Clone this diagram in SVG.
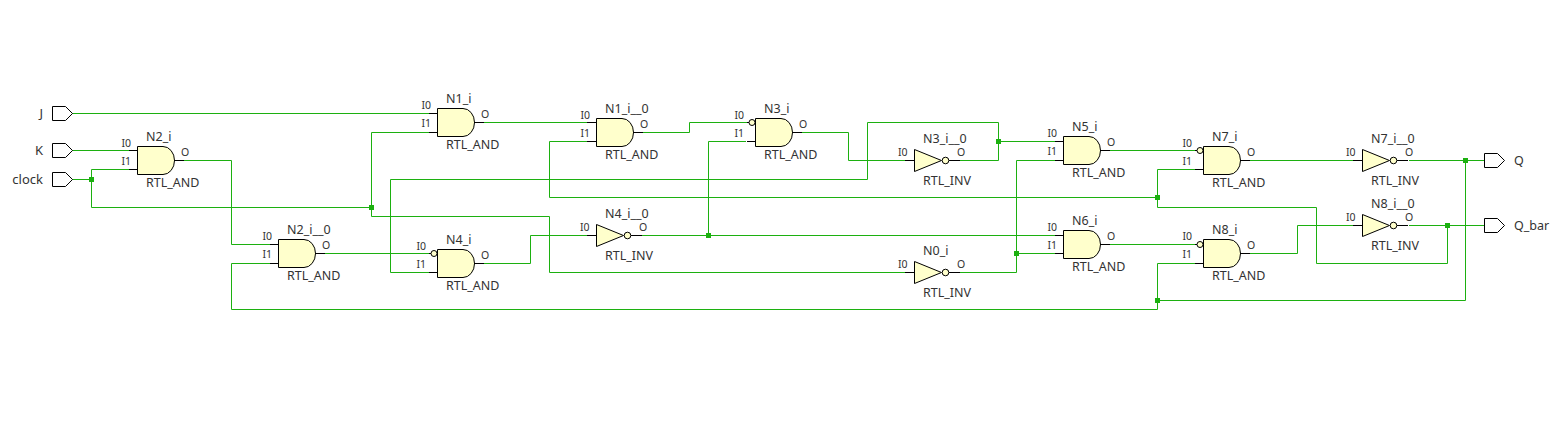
<svg xmlns="http://www.w3.org/2000/svg" xmlns:xlink="http://www.w3.org/1999/xlink" width="1560" height="425" viewBox="0 0 1560 425">
<style>
.w{fill:none;stroke:#1cb010;stroke-width:1}
.j{fill:#1cb010}
.k{fill:none;stroke:#000;stroke-width:1}
.b{fill:#ffffcc;stroke:#000;stroke-width:1}
text{font-family:"Noto Sans","Open Sans","Liberation Sans",sans-serif;fill:#333}
.n{font-size:12.5px}
.s{font-size:10.5px}
.l{font-size:13px}
.r{font-size:12.5px}
</style>
<defs>
<path id="and" class="b" d="M.5 .5H26A11.500 14 0 0 1 26 28.500H.5Z"/>
<g id="inv"><path class="b" d="M.5 -10.500V11.500L27.500 .5Z"/><circle class="b" cx="31.500" cy=".5" r="3.300"/></g>
<path id="port" class="k" style="fill:#fff" d="M.5 -7H13.500L20.500 0L13.500 7H.5Z"/>
</defs>
<rect width="1560" height="425" fill="#fff"/>
<g id="connectors">
<path class="w" d="M72 113.500H429"/>
<path class="w" d="M72 150.500H129"/>
<path class="w" d="M72 179.500H91.500M129 169.500H91.500V207.500H371.500M429 132.500H371.500V216.500H549.500V272.500H905"/>
<path class="w" d="M184 160.500H231.500V244.500H270"/>
<path class="w" d="M270 263.500H231.500V309.500H1157.500V263.500H1195M1157.500 300.500H1465.500V160.500"/>
<path class="w" d="M325 253.500H429"/>
<path class="w" d="M429 272.500H390.500V179.500H867.500V122.500H998.500V160.500H960M998.500 141.500H1055"/>
<path class="w" d="M484 122.500H587"/>
<path class="w" d="M643 132.500H689.500V122.500H747"/>
<path class="w" d="M587 141.500H549.500V197.500H1157.500M1195 169.500H1157.500V207.500H1316.500V263.500H1447.500V225.500"/>
<path class="w" d="M802 132.500H848.500V160.500H905"/>
<path class="w" d="M484 263.500H530.500V235.500H587"/>
<path class="w" d="M641 235.500H1055M708.500 235.500V141.500H746"/>
<path class="w" d="M960 272.500H1016.500V160.500H1055M1016.500 253.500H1055"/>
<path class="w" d="M1110 150.500H1195"/>
<path class="w" d="M1110 244.500H1195"/>
<path class="w" d="M1250 160.500H1353"/>
<path class="w" d="M1409 160.500H1484"/>
<path class="w" d="M1250 253.500H1297.500V225.500H1353"/>
<path class="w" d="M1409 225.500H1484"/>
<rect class="j" x="89" y="177" width="5" height="5"/>
<rect class="j" x="369" y="205" width="5" height="5"/>
<rect class="j" x="706" y="233" width="5" height="5"/>
<rect class="j" x="996" y="139" width="5" height="5"/>
<rect class="j" x="1014" y="251" width="5" height="5"/>
<rect class="j" x="1155" y="195" width="5" height="5"/>
<rect class="j" x="1155" y="298" width="5" height="5"/>
<rect class="j" x="1445" y="223" width="5" height="5"/>
<rect class="j" x="1463" y="158" width="5" height="5"/>
</g>
<g id="J"><use xlink:href="#port" x="52" y="113.500"/><text class="l" x="43" y="118" text-anchor="end">J</text></g>
<g id="K"><use xlink:href="#port" x="52" y="150.500"/><text class="l" x="43" y="155" text-anchor="end">K</text></g>
<g id="clock"><use xlink:href="#port" x="52" y="179.500"/><text class="l" x="43" y="184" text-anchor="end">clock</text></g>
<g id="Q"><use xlink:href="#port" x="1484" y="160.500"/><text class="r" x="1514" y="165">Q</text></g>
<g id="Q_bar"><use xlink:href="#port" x="1484" y="225.500"/><text class="r" x="1514" y="230">Q_bar</text></g>

<g id="N2_i" transform="translate(137,146)"><use xlink:href="#and"/><path class="k" d="M-8 4.500H0M-8 23.500H0M37 14.500H47"/><text class="n" x="9" y="-5">N2_i</text><text class="n" x="9" y="41">RTL_AND</text><text class="s" x="-15.500" y="1">I0</text><text class="s" x="-15.500" y="19">I1</text><text class="s" x="44" y="10">O</text></g>
<g id="N2_i__0" transform="translate(278,239)"><use xlink:href="#and"/><path class="k" d="M-8 5.500H0M-8 24.500H0M37 14.500H47"/><text class="n" x="9" y="-5">N2_i__0</text><text class="n" x="9" y="41">RTL_AND</text><text class="s" x="-15.500" y="1">I0</text><text class="s" x="-15.500" y="19">I1</text><text class="s" x="44" y="10">O</text></g>
<g id="N1_i" transform="translate(437,108)"><use xlink:href="#and"/><path class="k" d="M-8 5.500H0M-8 24.500H0M37 14.500H47"/><text class="n" x="9" y="-5">N1_i</text><text class="n" x="9" y="41">RTL_AND</text><text class="s" x="-15.500" y="1">I0</text><text class="s" x="-15.500" y="19">I1</text><text class="s" x="44" y="10">O</text></g>
<g id="N1_i__0" transform="translate(596,118)"><use xlink:href="#and"/><path class="k" d="M-9 4.500H0M-9 23.500H0M37 14.500H47"/><text class="n" x="9" y="-5">N1_i__0</text><text class="n" x="9" y="41">RTL_AND</text><text class="s" x="-15.500" y="1">I0</text><text class="s" x="-15.500" y="19">I1</text><text class="s" x="44" y="10">O</text></g>
<g id="N4_i" transform="translate(437,249)"><use xlink:href="#and"/><path class="k" d="M-8 4.500H-6M-8 23.500H0M37 14.500H47"/><circle class="b" cx="-3" cy="4.500" r="3"/><text class="n" x="9" y="-5">N4_i</text><text class="n" x="9" y="41">RTL_AND</text><text class="s" x="-20.500" y="1">I0</text><text class="s" x="-20.500" y="19">I1</text><text class="s" x="44" y="10">O</text></g>
<g id="N3_i" transform="translate(755,118)"><use xlink:href="#and"/><path class="k" d="M-8 4.500H-6M-8 23.500H0M37 14.500H47"/><circle class="b" cx="-3" cy="4.500" r="3"/><text class="n" x="9" y="-5">N3_i</text><text class="n" x="9" y="41">RTL_AND</text><text class="s" x="-20.500" y="1">I0</text><text class="s" x="-20.500" y="19">I1</text><text class="s" x="44" y="10">O</text></g>
<g id="N5_i" transform="translate(1063,136)"><use xlink:href="#and"/><path class="k" d="M-8 5.500H0M-8 24.500H0M37 14.500H47"/><text class="n" x="9" y="-5">N5_i</text><text class="n" x="9" y="41">RTL_AND</text><text class="s" x="-15.500" y="1">I0</text><text class="s" x="-15.500" y="19">I1</text><text class="s" x="44" y="10">O</text></g>
<g id="N6_i" transform="translate(1063,230)"><use xlink:href="#and"/><path class="k" d="M-8 5.500H0M-8 23.500H0M37 14.500H47"/><text class="n" x="9" y="-5">N6_i</text><text class="n" x="9" y="41">RTL_AND</text><text class="s" x="-15.500" y="1">I0</text><text class="s" x="-15.500" y="19">I1</text><text class="s" x="44" y="10">O</text></g>
<g id="N7_i" transform="translate(1203,146)"><use xlink:href="#and"/><path class="k" d="M-8 4.500H-6M-8 23.500H0M37 14.500H47"/><circle class="b" cx="-3" cy="4.500" r="3"/><text class="n" x="9" y="-5">N7_i</text><text class="n" x="9" y="41">RTL_AND</text><text class="s" x="-20.500" y="1">I0</text><text class="s" x="-20.500" y="19">I1</text><text class="s" x="44" y="10">O</text></g>
<g id="N8_i" transform="translate(1203,239)"><use xlink:href="#and"/><path class="k" d="M-8 5.500H-6M-8 24.500H0M37 14.500H47"/><circle class="b" cx="-3" cy="5.500" r="3"/><text class="n" x="9" y="-5">N8_i</text><text class="n" x="9" y="41">RTL_AND</text><text class="s" x="-20.500" y="1">I0</text><text class="s" x="-20.500" y="19">I1</text><text class="s" x="44" y="10">O</text></g>

<g id="N4_i__0" transform="translate(596,235)"><use xlink:href="#inv"/><path class="k" d="M-9 .5H0M35 .5H46"/><text class="n" x="9" y="-17">N4_i__0</text><text class="n" x="9" y="25">RTL_INV</text><text class="s" x="-16" y="-4">I0</text><text class="s" x="43" y="-4">O</text></g>
<g id="N3_i__0" transform="translate(914,160)"><use xlink:href="#inv"/><path class="k" d="M-9 .5H0M35 .5H46"/><text class="n" x="9" y="-17">N3_i__0</text><text class="n" x="9" y="25">RTL_INV</text><text class="s" x="-16" y="-4">I0</text><text class="s" x="43" y="-4">O</text></g>
<g id="N0_i" transform="translate(914,272)"><use xlink:href="#inv"/><path class="k" d="M-9 .5H0M35 .5H46"/><text class="n" x="9" y="-17">N0_i</text><text class="n" x="9" y="25">RTL_INV</text><text class="s" x="-16" y="-4">I0</text><text class="s" x="43" y="-4">O</text></g>
<g id="N7_i__0" transform="translate(1362,160)"><use xlink:href="#inv"/><path class="k" d="M-9 .5H0M35 .5H46"/><text class="n" x="9" y="-17">N7_i__0</text><text class="n" x="9" y="25">RTL_INV</text><text class="s" x="-16" y="-4">I0</text><text class="s" x="43" y="-4">O</text></g>
<g id="N8_i__0" transform="translate(1362,225)"><use xlink:href="#inv"/><path class="k" d="M-9 .5H0M35 .5H46"/><text class="n" x="9" y="-17">N8_i__0</text><text class="n" x="9" y="25">RTL_INV</text><text class="s" x="-16" y="-4">I0</text><text class="s" x="43" y="-4">O</text></g>
</svg>
